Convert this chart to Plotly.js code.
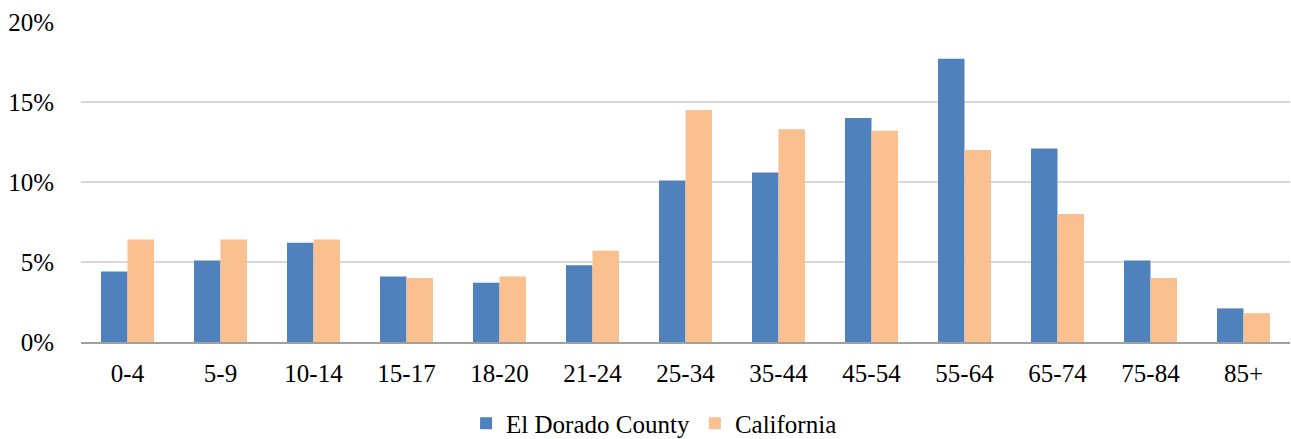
<!DOCTYPE html>
<html>
<head>
<meta charset="utf-8">
<script src="https://cdn.plot.ly/plotly-3.0.1.min.js"></script>
<style>
  html, body { margin: 0; padding: 0; background: #fff; }
  #chart { width: 1291px; height: 439px; }
</style>
</head>
<body>
<div id="chart"></div>
<script>
// Age groups
const ageGroups = ['0-4', '5-9', '10-14', '15-17', '18-20', '21-24', '25-34',
                   '35-44', '45-54', '55-64', '65-74', '75-84', '85+'];
// Share of population by age group (%)
const elDorado   = [4.4, 5.1, 6.2, 4.1, 3.7, 4.8, 10.1, 10.6, 14.0, 17.7, 12.1, 5.1, 2.1];
const california = [6.4, 6.4, 6.4, 4.0, 4.1, 5.7, 14.5, 13.3, 13.2, 12.0, 8.0, 4.0, 1.8];
const yTicks = [0, 5, 10, 15, 20];

const serif = 'Liberation Serif, Times New Roman, serif';
const tickFont = { family: serif, size: 25, color: '#000' };
const legendFont = { family: serif, size: 25, color: '#000' };

const traces = [
  { type: 'bar', name: 'El Dorado County', x: ageGroups, y: elDorado,
    marker: { color: '#4F81BD' }, hoverinfo: 'x+y' },
  { type: 'bar', name: 'California', x: ageGroups, y: california,
    marker: { color: '#FAC090' }, hoverinfo: 'x+y' }
];

const layout = {
  width: 1291, height: 439,
  margin: { l: 81, r: 1, t: 22, b: 97, autoexpand: false },
  paper_bgcolor: '#fff', plot_bgcolor: '#fff',
  font: tickFont,
  barmode: 'group', bargap: 0.43, bargroupgap: 0,
  showlegend: true,
  legend: {
    orientation: 'h', xref: 'paper', yref: 'paper',
    x: 0.474, xanchor: 'center', y: -0.255, yanchor: 'middle',
    font: legendFont, traceorder: 'normal'
  },
  xaxis: {
    type: 'category', showgrid: false, zeroline: false,
    showline: true, linecolor: '#A0A0A0', linewidth: 2,
    ticks: '', ticklabelstandoff: 8, tickfont: tickFont
  },
  yaxis: {
    range: [0, 20], tickvals: yTicks, ticktext: yTicks.map(v => v + '%'),
    showgrid: true, gridcolor: '#D9D9D9', gridwidth: 1.5,
    zeroline: false, showline: false, ticks: '',
    ticklabelstandoff: 26, tickfont: tickFont
  }
};

Plotly.newPlot('chart', traces, layout, { displayModeBar: false, staticPlot: true });
</script>
</body>
</html>
